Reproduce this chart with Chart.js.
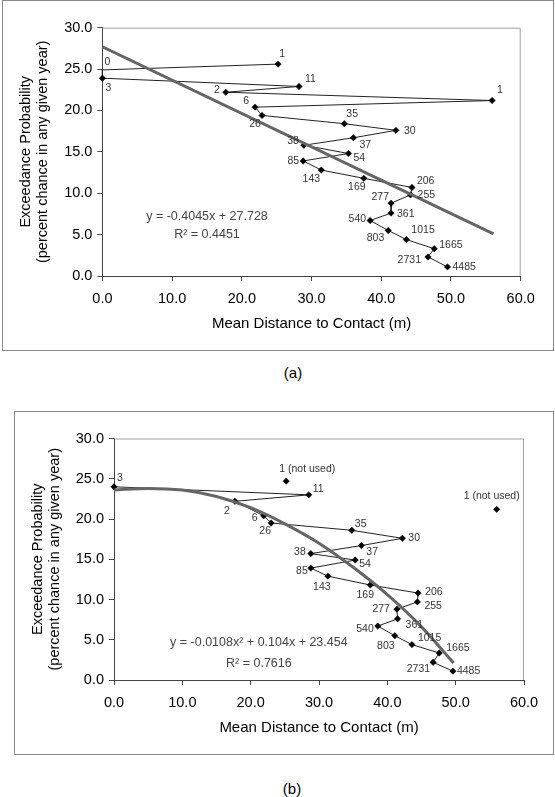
<!DOCTYPE html>
<html>
<head>
<meta charset="utf-8">
<script src="https://cdn.jsdelivr.net/npm/chart.js@4.4.1/dist/chart.umd.min.js"></script>
<style>
  html, body { margin: 0; padding: 0; background: #fff; }
  body { width: 555px; height: 797px; position: relative; overflow: hidden;
         font-family: "Liberation Sans", Arial, sans-serif; }
  .frame { position: absolute; border: 1px solid #888; box-sizing: border-box; }
  .frame canvas { display: block; }
  .caption { position: absolute; width: 60px; text-align: center; font-size: 15px;
             line-height: 17px; color: #000; }
</style>
</head>
<body>
<div class="frame" style="left:2px; top:0px; width:552px; height:351px;">
  <canvas id="chartA" width="550" height="349"></canvas>
</div>
<div class="caption" style="left:263px; top:364px;">(a)</div>

<div class="frame" style="left:14px; top:411px; width:540px; height:344px;">
  <canvas id="chartB" width="538" height="342"></canvas>
</div>
<div class="caption" style="left:262px; top:780px;">(b)</div>

<script>
// ---- chart (a): all ranks, linear trend ----
const rankLabelsA = ["1", "0", "3", "11", "2", "1", "6", "26", "35", "30", "37", "38", "54",
  "85", "143", "169", "206", "255", "277", "361", "540", "803", "1015", "1665", "2731", "4485"];
const distanceA = [25.2, 0, 0, 28.2, 17.7, 55.9, 21.9, 22.9, 34.7, 42.1, 36.0, 28.9, 35.3,
  28.8, 31.4, 37.5, 44.4, 44.2, 41.4, 41.4, 38.4, 41.0, 43.6, 47.6, 46.7, 49.5];
const probabilityA = [25.6, 24.9, 23.9, 22.9, 22.2, 21.2, 20.4, 19.4, 18.4, 17.6, 16.7, 15.8, 14.8,
  13.9, 12.8, 11.8, 10.7, 9.8, 8.8, 7.6, 6.7, 5.5, 4.4, 3.3, 2.3, 1.1];
const trendDistanceA = [0, 56.1];
const trendProbabilityA = [27.7, 5.1];

// ---- chart (b): rank 1 excluded, polynomial trend ----
const rankLabelsB = ["3", "11", "2", "6", "26", "35", "30", "37", "38", "54", "85", "143",
  "169", "206", "255", "277", "361", "540", "803", "1015", "1665", "2731", "4485"];
const distanceB = [0, 28.5, 17.7, 21.9, 23.0, 34.8, 42.2, 36.2, 28.8, 35.3, 28.8, 31.3,
  37.5, 44.5, 44.4, 41.4, 41.5, 38.6, 41.1, 43.6, 47.6, 46.7, 49.6];
const probabilityB = [24.0, 23.0, 22.2, 20.4, 19.5, 18.6, 17.6, 16.7, 15.7, 14.9, 13.9, 12.9,
  11.8, 10.8, 9.7, 8.8, 7.6, 6.7, 5.5, 4.4, 3.35, 2.2, 1.1];
const unusedLabels = ["1 (not used)", "1 (not used)"];
const unusedDistance = [25.2, 56.0];
const unusedProbability = [24.7, 21.2];
const trendDistanceB = [0, 5, 10, 15, 20, 25, 30, 35, 40, 45, 49.7];
const trendProbabilityB = [23.6, 23.8, 23.6, 22.8, 21.4, 19.4, 17.0, 14.0, 10.6, 6.6, 2.1];

const xTicks = [0, 10, 20, 30, 40, 50, 60];
const yTicks = [0, 5, 10, 15, 20, 25, 30];
const xTitle = "Mean Distance to Contact (m)";
const yTitle = ["Exceedance Probability", "(percent chance in any given year)"];
const equationA = ["y = -0.4045x + 27.728", "R\u00b2 = 0.4451"];
const equationB = ["y = -0.0108x\u00b2 + 0.104x + 23.454", "R\u00b2 = 0.7616"];

// label placement next to each marker: [dx, dy, align]
const tagPlaceA = [
  [4, -10, "center"], [5, -8, "center"], [6, 10, "center"], [6, -7, "left"], [-6, -2, "right"],
  [5, -10, "left"], [-6, -6, "right"], [-7, 9, "center"], [2, -10, "left"], [8, 1, "left"],
  [6, 7, "left"], [-5, -4, "right"], [5, 5, "left"], [-4, 0, "right"], [-10, 9, "center"],
  [-7, 9, "center"], [5, -6, "left"], [7, 0, "left"], [-2, -6, "right"], [6, 1, "left"],
  [-4, -1, "right"], [-4, 8, "right"], [5, -9, "left"], [5, -4, "left"], [-7, 3, "right"],
  [5, 0, "left"]
];
const tagPlaceB = [
  [3, -9, "left"], [4, -6, "left"], [-8, 10, "center"], [-6, 2, "right"], [-6, 8, "center"],
  [3, -6, "left"], [6, 0, "left"], [5, 7, "left"], [-5, -2, "right"], [4, 4, "left"],
  [-3, 3, "right"], [-6, 11, "center"], [-5, 10, "center"], [7, -1, "left"], [7, 4, "left"],
  [-7, 0, "right"], [8, 6, "left"], [-4, 3, "right"], [-9, 10, "center"], [6, -6, "left"],
  [7, -5, "left"], [-3, 7, "right"], [4, 0, "left"]
];
const tagPlaceUnused = [[-7, -12, "left"], [-5, -13, "center"]];

const FONT = '"Liberation Sans", Arial, sans-serif';
Chart.defaults.font.family = FONT;
Chart.defaults.color = "#000";

function toPoints(xs, ys) {
  return xs.map((x, i) => ({ x: x, y: ys[i] }));
}

// draws rank tags, the trend equation and the light plot border
function makeAnnotations(tagSets, equation, eqPos) {
  return {
    id: "annotations",
    beforeDatasetsDraw(chart) {
      const { ctx, chartArea: a } = chart;
      ctx.save();
      ctx.strokeStyle = "#a0a0a0";
      ctx.lineWidth = 1;
      ctx.beginPath();
      ctx.moveTo(a.left, a.top + 0.5);
      ctx.lineTo(a.right - 0.5, a.top + 0.5);
      ctx.lineTo(a.right - 0.5, a.bottom);
      ctx.stroke();
      ctx.restore();
    },
    afterDatasetsDraw(chart) {
      const ctx = chart.ctx;
      ctx.save();
      ctx.font = "10.5px " + FONT;
      ctx.fillStyle = "#333";
      ctx.textBaseline = "middle";
      tagSets.forEach((set) => {
        const meta = chart.getDatasetMeta(set.dataset);
        meta.data.forEach((pt, i) => {
          const [dx, dy, align] = set.place[i];
          ctx.textAlign = align;
          ctx.fillText(set.labels[i], pt.x + dx, pt.y + dy);
        });
      });
      const sx = chart.scales.x, sy = chart.scales.y;
      ctx.font = "12.5px " + FONT;
      ctx.fillStyle = "#444";
      ctx.textAlign = "center";
      equation.forEach((line, i) => {
        ctx.fillText(line, sx.getPixelForValue(eqPos[i][0]), sy.getPixelForValue(eqPos[i][1]));
      });
      ctx.restore();
    }
  };
}

function makeScales(yAxisWidth, xAxisHeight) {
  const axisGrid = { drawOnChartArea: false, tickLength: 5, color: "#444" };
  return {
    x: {
      type: "linear", min: 0, max: 60,
      afterBuildTicks: (s) => { s.ticks = xTicks.map((v) => ({ value: v })); },
      ticks: { callback: (v) => v.toFixed(1), font: { size: 14.5 }, padding: 9, maxRotation: 0 },
      grid: axisGrid,
      border: { color: "#444" },
      title: { display: true, text: xTitle, font: { size: 15 }, padding: { top: 0, bottom: 17 } },
      afterFit: (s) => { s.height = xAxisHeight; }
    },
    y: {
      type: "linear", min: 0, max: 30,
      afterBuildTicks: (s) => { s.ticks = yTicks.map((v) => ({ value: v })); },
      ticks: { callback: (v) => v.toFixed(1), font: { size: 14.5 }, padding: 5 },
      grid: axisGrid,
      border: { color: "#444" },
      title: { display: true, text: yTitle, font: { size: 14.5, lineHeight: 1.15 }, padding: { top: 15, bottom: 0 } },
      afterFit: (s) => { s.width = yAxisWidth; }
    }
  };
}

const markerStyle = {
  showLine: true, borderColor: "#222", borderWidth: 1, clip: false,
  pointStyle: "rectRot", pointRadius: 3.2, pointBackgroundColor: "#000",
  pointBorderColor: "#000", pointBorderWidth: 0.5
};
const trendStyle = {
  showLine: true, borderColor: "#666", borderWidth: 3, pointRadius: 0, tension: 0
};
const baseOptions = {
  responsive: false, animation: false,
  plugins: { legend: { display: false }, tooltip: { enabled: false } },
  elements: { line: { borderCapStyle: "butt" } }
};

new Chart(document.getElementById("chartA"), {
  type: "scatter",
  data: {
    datasets: [
      Object.assign({ data: toPoints(trendDistanceA, trendProbabilityA), order: 0 }, trendStyle),
      Object.assign({ data: toPoints(distanceA, probabilityA), order: 1 }, markerStyle, {
        // rank "0" sits on the axis with no visible marker
        pointRadius: (c) => (rankLabelsA[c.dataIndex] === "0" ? 0 : 3.2)
      })
    ]
  },
  options: Object.assign({}, baseOptions, {
    layout: { padding: { top: 26.7, right: 32.3, left: 0, bottom: 0 } },
    scales: makeScales(99.4, 74)
  }),
  plugins: [makeAnnotations([{ dataset: 1, labels: rankLabelsA, place: tagPlaceA }],
    equationA, [[15.0, 7.2], [15.0, 5.0]])]
});

new Chart(document.getElementById("chartB"), {
  type: "scatter",
  data: {
    datasets: [
      Object.assign({ data: toPoints(trendDistanceB, trendProbabilityB), order: 0 }, trendStyle,
        { tension: 0.4, cubicInterpolationMode: "monotone" }),
      Object.assign({ data: toPoints(distanceB, probabilityB), order: 1 }, markerStyle),
      Object.assign({ data: toPoints(unusedDistance, unusedProbability), order: 2 }, markerStyle,
        { showLine: false })
    ]
  },
  options: Object.assign({}, baseOptions, {
    layout: { padding: { top: 26.5, right: 29, left: 0, bottom: 0 } },
    scales: makeScales(99, 74)
  }),
  plugins: [makeAnnotations([
    { dataset: 1, labels: rankLabelsB, place: tagPlaceB },
    { dataset: 2, labels: unusedLabels, place: tagPlaceUnused }
  ], equationB, [[21.2, 4.6], [21.2, 2.1]])]
});
</script>
</body>
</html>
